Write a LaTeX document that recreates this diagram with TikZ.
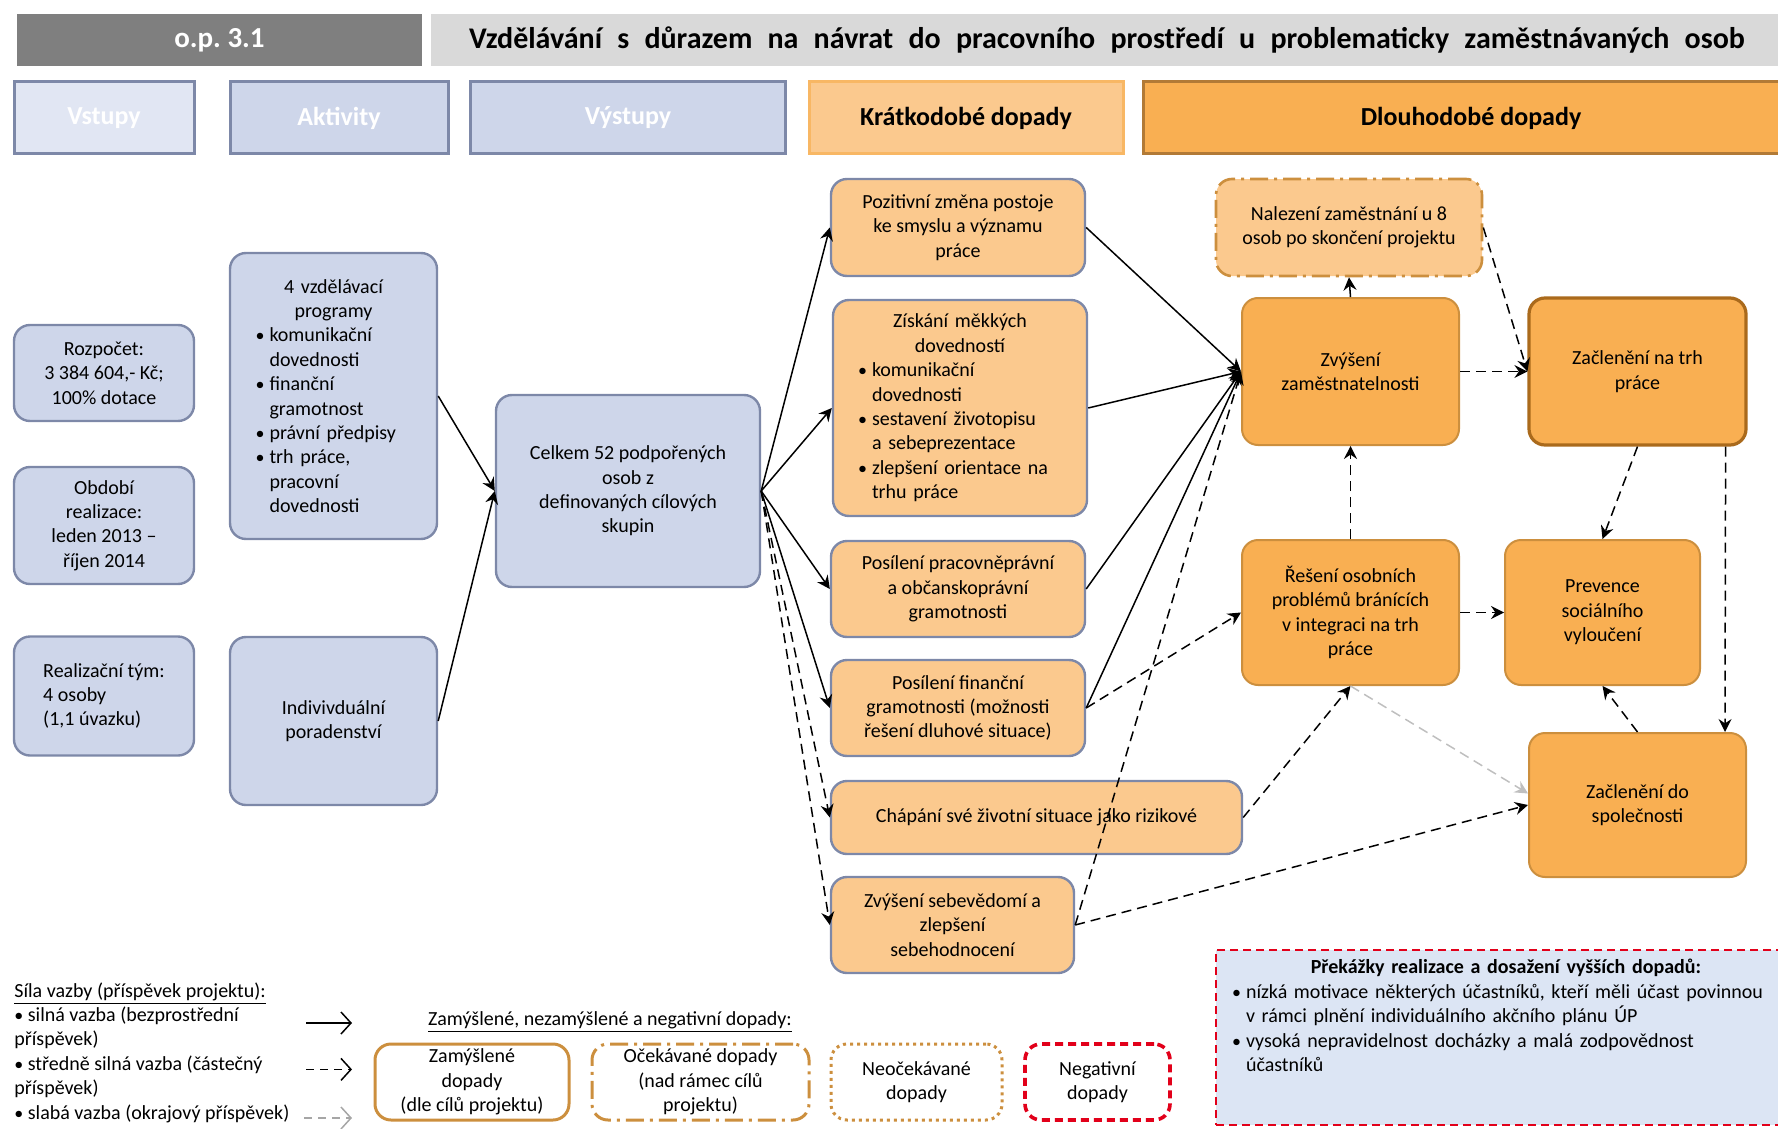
\documentclass[tikz,border=0pt]{standalone}
\usepackage{fontspec}
\setmainfont{Carlito}
\usepackage{tikz}
\usetikzlibrary{arrows.meta}
\definecolor{hdrdark}{HTML}{7F7F7F}
\definecolor{hdrlight}{HTML}{D9D9D9}
\definecolor{bluefill}{HTML}{CED6EA}
\definecolor{bluepale}{HTML}{E1E6F3}
\definecolor{blueline}{HTML}{7D88A8}
\definecolor{orpale}{HTML}{FBC98E}
\definecolor{ordeep}{HTML}{F9AF52}
\definecolor{orline}{HTML}{F8B764}
\definecolor{brownline}{HTML}{CC8F3E}
\definecolor{browndark}{HTML}{AA6A1C}
\definecolor{hdrbrown}{HTML}{B27A36}
\definecolor{redline}{HTML}{E2001A}
\definecolor{obstfill}{HTML}{DCE5F4}
\newcommand{\itm}{\endgraf\hangindent=7pt\hangafter=1\noindent\makebox[7pt][l]{\small•}}

\begin{document}
\begin{tikzpicture}[x=1pt,y=-1pt,
  font=\fontsize{10}{12.2}\selectfont,
  box/.style={rounded corners=8pt,line width=1.2pt,align=center,inner sep=1pt},
  inbox/.style={box,fill=bluefill,draw=blueline},
  sbox/.style={box,fill=orpale,draw=blueline},
  lbox/.style={box,fill=ordeep,draw=brownline,line width=1pt},
  hdr/.style={draw=blueline,line width=1.5pt,font=\fontsize{13}{16}\selectfont\bfseries,text=white,minimum height=36pt},
  legbox/.style={box,draw=brownline,line width=1.5pt,minimum height=38pt,inner sep=0pt},
  strong/.style={-{Stealth[length=6.5pt,width=6.5pt,inset=2.2pt]},line width=0.75pt},
  medium/.style={strong,dash pattern=on 5pt off 3pt},
  weak/.style={medium,draw=black!25},
  legarrow/.style={line width=0.75pt,-{Straight Barb[length=5pt,width=11pt]}}
  ]
\useasboundingbox (0,0) rectangle (889,564.5);
\node[fill=hdrdark,minimum width=202.5pt,minimum height=26pt,text=white,font=\fontsize{14.5}{17}\selectfont\bfseries] (op) at (109.75,20) {o.p.\ 3.1};
\node[fill=hdrlight,minimum width=676pt,minimum height=26pt,font=\fontsize{15}{17}\selectfont\bfseries] (title) at (553.5,20) {\spaceskip=7.6pt\relax Vzdělávání s důrazem na návrat do pracovního prostředí u problematicky zaměstnávaných osob};

\node[hdr,fill=bluepale,minimum width=90pt] (vst) at (52,59) {Vstupy};
\node[hdr,fill=bluefill,minimum width=109pt] (akt) at (169.5,59) {Aktivity};
\node[hdr,fill=bluefill,minimum width=157.5pt] (vys) at (314,59) {Výstupy};
\node[hdr,fill=orpale,draw=orline,text=black,minimum width=157pt] (kr) at (483,59) {Krátkodobé dopady};
\node[hdr,fill=ordeep,draw=hdrbrown,text=black,minimum width=328pt] (dl) at (735.5,59) {Dlouhodobé dopady};

\node[inbox,minimum width=90pt,minimum height=48pt] (bud) at (52,186.5) {Rozpočet:\\3 384 604,- Kč;\\100\% dotace};
\node[inbox,minimum width=90pt,minimum height=58.5pt] (per) at (52,262.75) {Období\\realizace:\\leden 2013 –\\říjen 2014};
\node[inbox,minimum width=90pt,minimum height=59.5pt,align=left] (team) at (52,348) {Realizační tým:\\4 osoby\\(1,1 úvazku)};

\node[inbox,minimum width=103.5pt,minimum height=143pt,text width=78pt,align=left] (prog) at (166.75,198) {{\centering 4 vzdělávací\\programy\endgraf}
  \itm komunikační\newline dovednosti
  \itm finanční\newline gramotnost
  \itm právní předpisy
  \itm trh práce,\newline pracovní\newline dovednosti\endgraf};
\node[inbox,minimum width=103.5pt,minimum height=84pt] (ind) at (166.75,360.5) {Indivivduální\\poradenství};

\node[inbox,minimum width=132pt,minimum height=96pt] (cel) at (314,245.5) {Celkem 52 podpořených\\osob z\\definovaných cílových\\skupin};

\node[sbox,minimum width=127pt,minimum height=48.5pt] (poz) at (479,113.75) {Pozitivní změna postoje\\ke smyslu a významu\\práce};
\node[sbox,minimum width=127pt,minimum height=108pt,text width=102pt,align=left] (mek) at (480,204) {{\centering Získání měkkých\\dovedností\endgraf}
  \itm komunikační\newline dovednosti
  \itm sestavení životopisu\newline a sebeprezentace
  \itm zlepšení orientace na\newline trhu práce\endgraf};
\node[sbox,minimum width=127pt,minimum height=48pt] (prav) at (479,294.5) {Posílení pracovněprávní\\a občanskoprávní\\gramotnosti};
\node[sbox,minimum width=127pt,minimum height=48pt] (fin) at (479,354) {Posílení finanční\\gramotnosti (možnosti\\řešení dluhové situace)};
\node[sbox,minimum width=205.5pt,minimum height=36.5pt] (chap) at (518.25,408.75) {Chápání své životní situace jako rizikové};
\node[sbox,minimum width=121.5pt,minimum height=48pt] (seb) at (476.25,462.5) {Zvýšení sebevědomí a\\zlepšení\\sebehodnocení};

\node[lbox,fill=orpale,dash pattern=on 9pt off 3pt on 1.5pt off 3pt,line width=1.3pt,minimum width=133pt,minimum height=48.5pt] (nal) at (674.5,113.75) {Nalezení zaměstnání u 8\\osob po skončení projektu};
\node[lbox,minimum width=108.5pt,minimum height=73.5pt] (zam) at (675.25,185.75) {Zvýšení\\zaměstnatelnosti};
\node[lbox,draw=browndark,line width=1.6pt,minimum width=108.5pt,minimum height=73.5pt] (trh) at (818.75,185.75) {Začlenění na trh\\práce};
\node[lbox,minimum width=108.5pt,minimum height=72.5pt] (res) at (675.25,306.25) {Řešení osobních\\problémů bránících\\v integraci na trh\\práce};
\node[lbox,minimum width=97.5pt,minimum height=72.5pt] (prev) at (801.25,306.25) {Prevence\\sociálního\\vyloučení};
\node[lbox,minimum width=108.5pt,minimum height=72pt] (spol) at (818.75,402.5) {Začlenění do\\společnosti};

\node[draw=redline,fill=obstfill,dash pattern=on 4pt off 2.5pt,line width=1pt,minimum width=290pt,minimum height=87.5pt,
  label={[anchor=north,text width=274pt,align=left,inner sep=0pt,yshift=-5pt]north:{{\centering\bfseries Překážky realizace a dosažení vyšších dopadů:\endgraf}
  \makebox[7pt][l]{\small•}\mbox{nízká motivace některých účastníků, kteří měli účast povinnou}\\
  \makebox[7pt]{}\mbox{v rámci plnění individuálního akčního plánu ÚP}\\
  \makebox[7pt][l]{\small•}\mbox{vysoká nepravidelnost docházky a malá zodpovědnost}\\
  \makebox[7pt]{}\mbox{účastníků}\endgraf}}] (obst) at (753,518.75) {};

\node[anchor=north west,align=left,inner sep=0pt] (leg) at (7,491) {\underline{Síla vazby (příspěvek projektu):}\\{\small•} silná vazba (bezprostřední\\příspěvek)\\{\small•} středně silná vazba (částečný\\příspěvek)\\{\small•} slabá vazba (okrajový příspěvek)};
\coordinate (s1) at (153,511.5);
\coordinate (e1) at (176,511.5);
\coordinate (s2) at (153,534.7);
\coordinate (e2) at (176,534.7);
\coordinate (s3) at (152,559);
\coordinate (e3) at (176,559);
\draw[legarrow] (s1) -- (e1);
\draw[legarrow,dash pattern=on 4pt off 3pt] (s2) -- (e2);
\draw[legarrow,dash pattern=on 4pt off 3pt,draw=black!35] (s3) -- (e3);

\node (legtitle) at (305,511) {\underline{Zamýšlené, nezamýšlené a negativní dopady:}};
\node[legbox,minimum width=97pt] (lz) at (236,541) {Zamýšlené\\dopady\\(dle cílů projektu)};
\node[legbox,dash pattern=on 9pt off 3pt on 1.5pt off 3pt,minimum width=108.5pt] (lo) at (350.25,541) {Očekávané dopady\\(nad rámec cílů\\projektu)};
\node[legbox,dotted,minimum width=85.5pt] (ln) at (458.25,541) {Neočekávané\\dopady};
\node[legbox,draw=redline,line width=1.8pt,dash pattern=on 4pt off 2.5pt,minimum width=72.5pt] (lneg) at (548.75,541) {Negativní\\dopady};

\draw[strong] (prog.east) -- (cel.west);
\draw[strong] (ind.east) -- (cel.west);
\draw[strong] (cel.east) -- (poz.west);
\draw[strong] (cel.east) -- (mek.west);
\draw[strong] (cel.east) -- (prav.west);
\draw[strong] (cel.east) -- (fin.west);
\draw[medium] (cel.east) -- (chap.west);
\draw[medium] (cel.east) -- (seb.west);
\draw[strong] (poz.east) -- (zam.west);
\draw[strong] (mek.east) -- (zam.west);
\draw[strong] (prav.east) -- (zam.west);
\draw[strong] (fin.east) -- (zam.west);
\draw[medium] (seb.east) -- (zam.west);
\draw[medium] (fin.east) -- (res.west);
\draw[medium] (chap.east) -- (res.south);
\draw[medium] (seb.east) -- (spol.west);
\draw[weak] (res.south) -- (spol.174);
\draw[medium] (res.north) -- (zam.south);
\draw[strong] (zam.north) -- (nal.south);
\draw[medium] (zam.east) -- (trh.west);
\draw[medium] (nal.east) -- (trh.west);
\draw[medium] (trh.south) -- (prev.north);
\draw[medium] ([xshift=-11pt]trh.south east) -- ([xshift=-11pt]spol.north east);
\draw[medium] (res.east) -- (prev.west);
\draw[medium] (spol.north) -- (prev.south);
\end{tikzpicture}
\end{document}
